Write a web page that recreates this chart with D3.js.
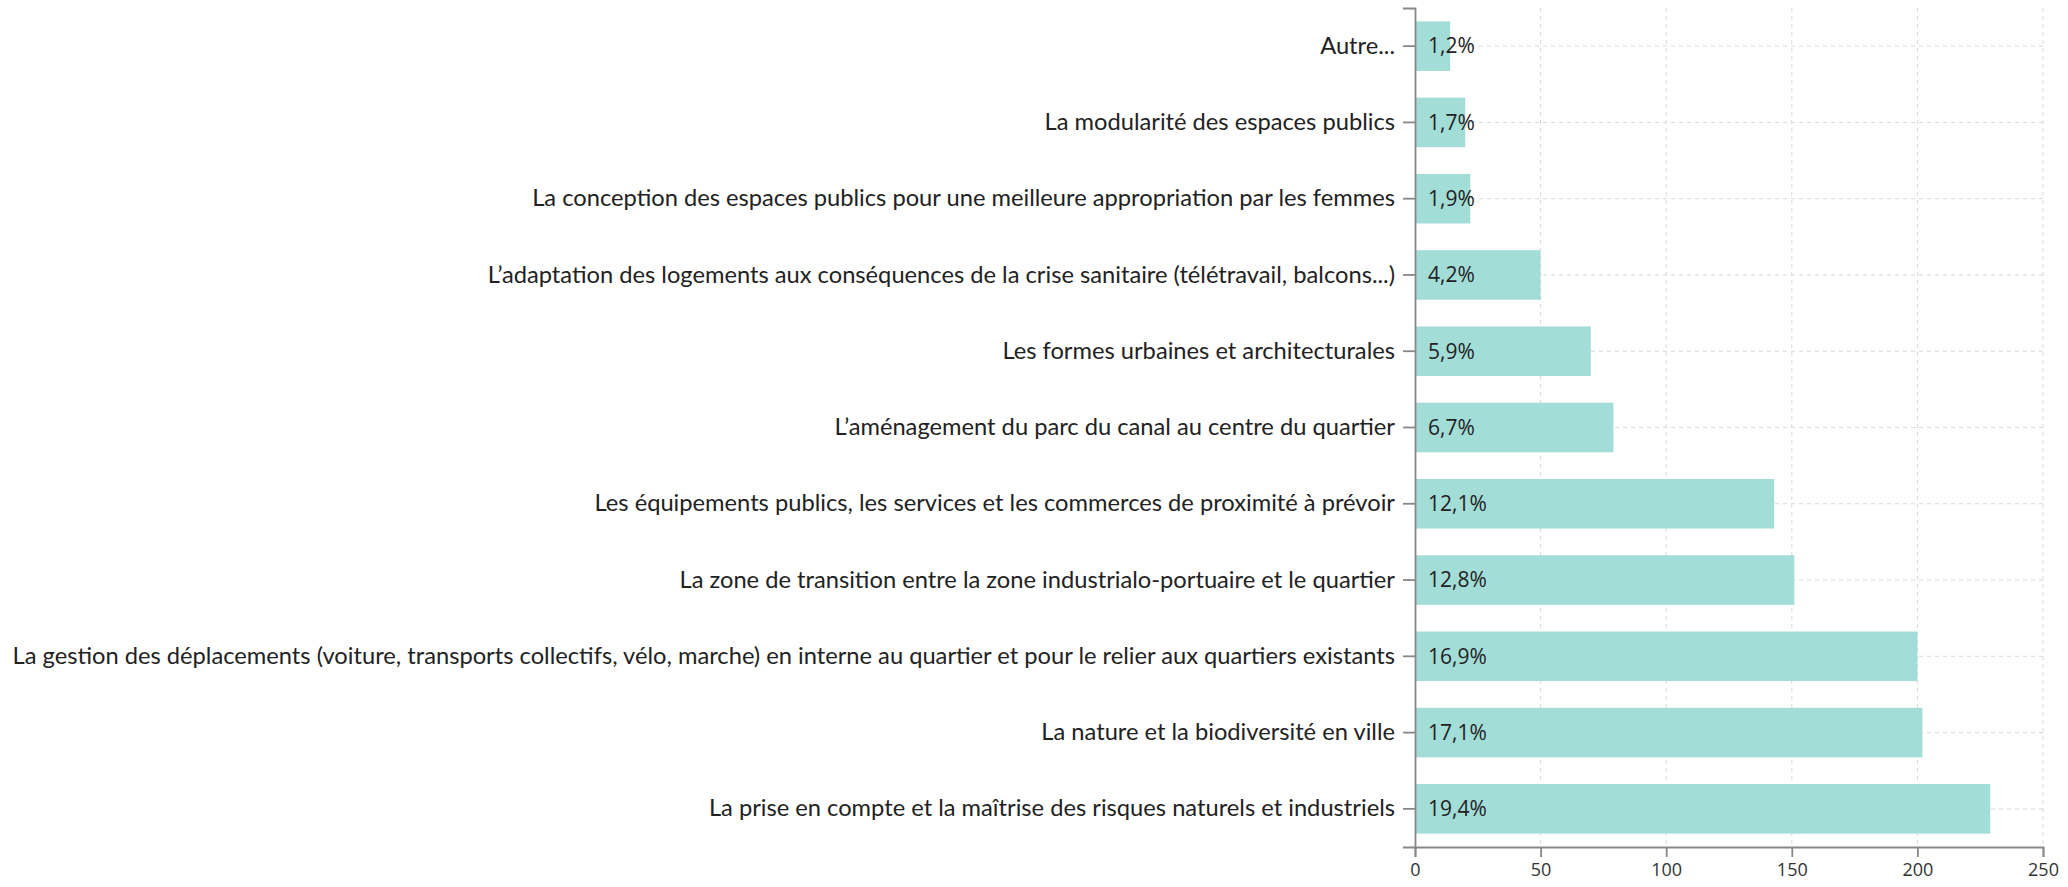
<!DOCTYPE html>
<html>
<head>
<meta charset="utf-8">
<script src="https://cdn.jsdelivr.net/npm/d3@7"></script>
<style>
  body { margin: 0; background: #fff; }
  .cat text { font-family: Lato, sans-serif; font-size: 23.7px; fill: #222; }
  .xaxis text { font-family: "Open Sans", sans-serif; font-size: 18px; fill: #333; }
  .pct { font-family: "Open Sans", sans-serif; font-size: 21px; fill: #222; }
</style>
</head>
<body>
<div id="chart"></div>
<script>
const categories = [
  'Autre...',
  'La modularité des espaces publics',
  'La conception des espaces publics pour une meilleure appropriation par les femmes',
  'L’adaptation des logements aux conséquences de la crise sanitaire (télétravail, balcons...)',
  'Les formes urbaines et architecturales',
  'L’aménagement du parc du canal au centre du quartier',
  'Les équipements publics, les services et les commerces de proximité à prévoir',
  'La zone de transition entre la zone industrialo-portuaire et le quartier',
  'La gestion des déplacements (voiture, transports collectifs, vélo, marche) en interne au quartier et pour le relier aux quartiers existants',
  'La nature et la biodiversité en ville',
  'La prise en compte et la maîtrise des risques naturels et industriels'
];
const counts   = [14, 20, 22, 50, 70, 79, 143, 151, 200, 202, 229];
const percents = ['1,2%', '1,7%', '1,9%', '4,2%', '5,9%', '6,7%', '12,1%', '12,8%', '16,9%', '17,1%', '19,4%'];
const xTicks   = [0, 50, 100, 150, 200, 250];

const data = categories.map((c, i) => ({ label: c, value: counts[i], pct: percents[i] }));

const W = 2068, H = 887;
const margin = { top: 8, right: 25, bottom: 40, left: 1415 };
const width  = W - margin.left - margin.right;
const height = H - margin.top - margin.bottom;

const svg = d3.select('#chart')
  .append('svg')
    .attr('width', W)
    .attr('height', H)
  .append('g')
    .attr('transform', `translate(${margin.left},${margin.top})`);

const x = d3.scaleLinear().domain([0, 250]).range([0, width]);
const y = d3.scaleBand()
  .domain(categories)
  .range([0, height])
  .paddingInner(0.35)
  .paddingOuter(0.175);

// grid
svg.append('g')
  .selectAll('line.vg')
  .data(xTicks.slice(1))
  .enter().append('line')
    .attr('x1', d => x(d)).attr('x2', d => x(d))
    .attr('y1', 0).attr('y2', height)
    .attr('stroke', '#d9d9d9').attr('stroke-dasharray', '4,4');

svg.append('g')
  .selectAll('line.hg')
  .data(categories)
  .enter().append('line')
    .attr('x1', 0).attr('x2', x(250))
    .attr('y1', d => y(d) + y.bandwidth() / 2)
    .attr('y2', d => y(d) + y.bandwidth() / 2)
    .attr('stroke', '#d9d9d9').attr('stroke-dasharray', '4,4');

// bars
svg.selectAll('.bar')
  .data(data)
  .enter().append('rect')
    .attr('class', 'bar')
    .attr('x', 0)
    .attr('y', d => y(d.label))
    .attr('width', d => x(d.value))
    .attr('height', y.bandwidth())
    .attr('fill', '#a3ddd8');

svg.selectAll('.pct')
  .data(data)
  .enter().append('text')
    .attr('class', 'pct')
    .attr('x', 13)
    .attr('y', d => y(d.label) + y.bandwidth() / 2)
    .attr('dy', '0.35em')
    .text(d => d.pct);

// axes
svg.append('g')
  .attr('class', 'cat')
  .call(d3.axisLeft(y).tickSize(12).tickPadding(8));

svg.append('g')
  .attr('class', 'xaxis')
  .attr('transform', `translate(0,${height})`)
  .call(d3.axisBottom(x).tickValues(xTicks).tickSize(10).tickPadding(6));

svg.selectAll('.domain, .tick line')
  .attr('stroke', '#888')
  .attr('stroke-width', 1.8);
</script>
</body>
</html>
